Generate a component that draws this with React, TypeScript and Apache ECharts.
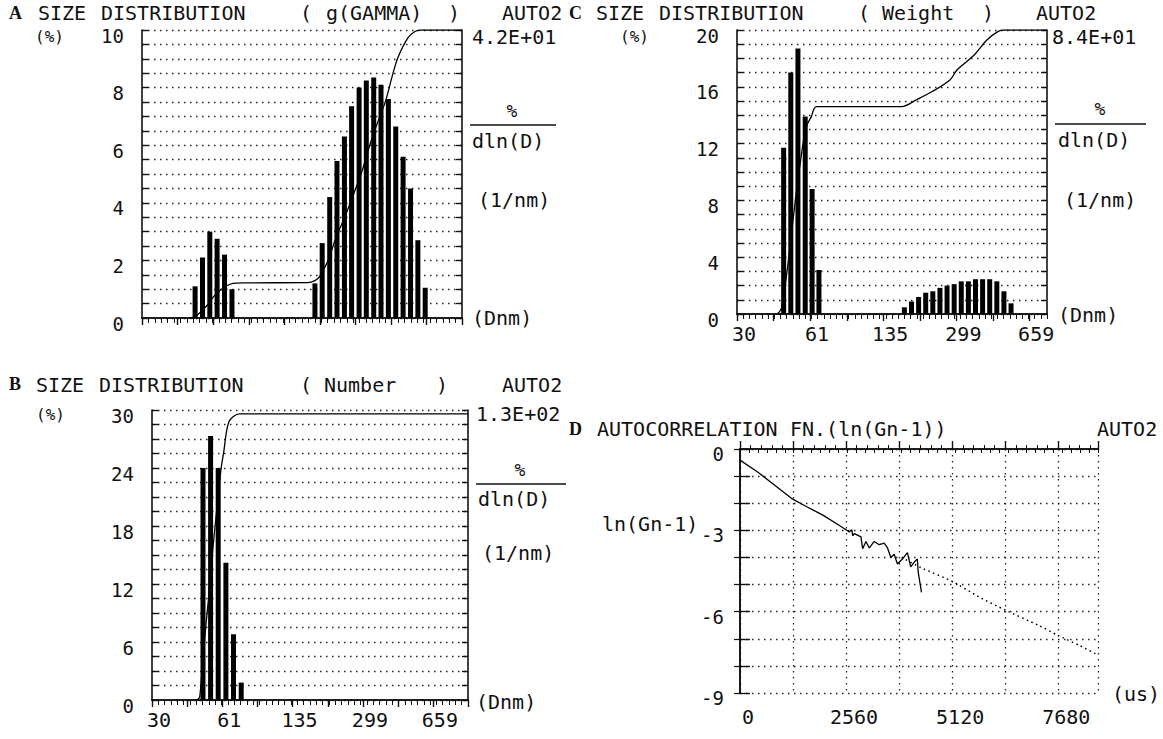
import React, { useEffect, useRef } from "react";
import * as echarts from "echarts";

// ---------- shared x axis (diameter, nm, log) ----------
const xMinDiam = 27.6;
const xMaxDiamAB = 980;
const xMaxDiamC = 800;
const xTickValues = [27.6, 61, 135, 299, 659];
const xTickLabels = ["30", "61", "135", "299", "659"];
const xMajorTicks = [27.6, 41, 61, 91, 135, 201, 299, 444, 659, 980];

// ---------- A : g(GAMMA) ----------
const gammaLeftBins = [49.9, 54.2, 58.8, 63.8, 69.3, 75.3];
const gammaRightBins = [190, 206, 224, 243, 264, 286, 311, 337, 366, 397, 431, 468, 508, 552, 599, 650];
const gammaLeft = [1.1, 2.1, 3.0, 2.75, 2.2, 1.0];
const gammaRight = [1.2, 2.6, 4.2, 5.45, 6.3, 7.35, 8.0, 8.25, 8.35, 8.1, 7.6, 6.65, 5.6, 4.5, 2.7, 1.05];
const gammaCumDiam = [46.6, 49.8, 53, 57.2, 61.5, 65.7, 71, 76.3, 84.8, 175, 190, 200, 220, 241, 265, 291, 322, 352, 380, 418, 450, 479, 536, 580, 622, 980];
const gammaCumValue = [0, 0.05, 0.2, 0.45, 0.75, 0.95, 1.12, 1.2, 1.22, 1.23, 1.3, 1.44, 2.0, 2.82, 3.5, 4.26, 5.12, 6.05, 6.74, 7.54, 8.4, 9.04, 9.73, 9.95, 10, 10];

// ---------- B : Number ----------
const numberBins = [49.1, 53.5, 58.3, 63.6, 69.3, 75.6];
const numberValues = [24.0, 27.3, 24.0, 14.2, 6.8, 1.8];
const numberCumDiam = [45.8, 47.3, 49.1, 52, 55.1, 58.2, 60.3, 62, 65.9, 74.2, 980];
const numberCumValue = [0, 0.3, 4.6, 10, 16, 21, 24, 25.6, 28.8, 29.6, 29.6];

// ---------- C : Weight ----------
const weightLeftBins = [45.8, 49.5, 53.5, 57.9, 62.4, 67.2];
const weightRightBins = [170, 183.6, 198.4, 214.3, 231.5, 250.1, 270.2, 291.9, 315.3, 340.6, 368, 397.5, 429.4, 463.9, 501.1, 541.4];
const weightLeft = [11.7, 17.0, 18.7, 13.9, 8.8, 3.1];
const weightRight = [0.47, 0.88, 1.2, 1.5, 1.6, 1.84, 2.0, 2.1, 2.3, 2.3, 2.45, 2.45, 2.45, 2.3, 1.6, 0.75];
const weightCumDiam = [42.8, 44.7, 46.6, 49.3, 52.0, 54.7, 58.3, 61.9, 65.4, 165, 194.3, 232.4, 279.5, 301.5, 360.7, 416.6, 471, 500.8, 800];
const weightCumValue = [0, 0.4, 2, 5, 8, 10.5, 13.1, 13.9, 14.6, 14.6, 15.1, 15.7, 16.5, 17.2, 18.2, 19.3, 19.9, 20, 20];

// ---------- D : autocorrelation ----------
const acfTime = [0, 400, 800, 1240, 1600, 2000, 2400, 2640, 2700, 2720, 2760, 2920, 2960, 3040, 3120, 3240, 3360, 3480, 3560, 3640, 3720, 3800, 3920, 4040, 4120, 4200, 4280, 4300, 4380];
const acfValue = [-0.41, -0.82, -1.29, -1.82, -2.12, -2.44, -2.82, -3.06, -2.98, -3.2, -3.12, -3.24, -3.68, -3.41, -3.65, -3.41, -3.53, -3.47, -3.65, -4.0, -3.88, -4.24, -4.06, -3.82, -4.35, -4.18, -4.06, -4.53, -5.29];
const fitTime = [3900, 4400, 5120, 5760, 6400, 7200, 7680, 8200, 8640];
const fitValue = [-4.0, -4.4, -4.88, -5.45, -5.94, -6.5, -6.88, -7.25, -7.6];

const MONO = '"DejaVu Sans Mono", "Liberation Mono", monospace';
const SERIF = '"Liberation Serif", "DejaVu Serif", serif';
const INK = "#111";
const dotted = { type: [1.5, 4.5], color: "#222", width: 1.3 };
const axisLineStyle = { color: INK, width: 1.6 };

function pairs(xs: number[], ys: number[]) {
  return xs.map((x, i) => [x, ys[i]]);
}

function xLabelFormatter(v: number) {
  const i = xTickValues.findIndex((t) => Math.abs(t - v) / t < 0.02);
  return i >= 0 ? xTickLabels[i] : "";
}

const grids = [
  { left: 142, top: 30, width: 320, height: 288 },
  { left: 152, top: 410, width: 316, height: 290 },
  { left: 737, top: 30, width: 310, height: 284 },
  { left: 740, top: 449, width: 358, height: 244 },
];

function sizeXAxes(gi: number, showLabels: boolean, max: number) {
  return [
    {
      type: "log",
      gridIndex: gi,
      logBase: 10,
      min: xMinDiam,
      max,
      position: "bottom",
      axisLine: { show: true, lineStyle: axisLineStyle },
      axisTick: { show: true, customValues: xMajorTicks, inside: false, length: 7, lineStyle: { color: INK, width: 1.4 } },
      axisLabel: {
        show: showLabels,
        customValues: xTickValues,
        formatter: xLabelFormatter,
        margin: 10,
        padding: [0, 0, 0, 14],
        fontFamily: MONO,
        fontSize: 20,
        color: INK,
      },
      splitLine: { show: false },
    },
    {
      type: "value",
      gridIndex: gi,
      position: "top",
      min: 0,
      max: 100,
      interval: 2,
      axisLine: { show: true, lineStyle: axisLineStyle },
      axisTick: { show: true, inside: true, length: 5, lineStyle: { color: INK, width: 1 } },
      axisLabel: { show: false },
      splitLine: { show: false },
    },
  ];
}

function sizeYAxes(gi: number, max: number, labelStep: number, minorStep: number) {
  return [
    {
      type: "value",
      gridIndex: gi,
      position: "left",
      min: 0,
      max,
      interval: labelStep,
      axisLine: { show: true, lineStyle: axisLineStyle },
      axisTick: { show: true, inside: true, length: 6, lineStyle: { color: INK, width: 1.4 } },
      minorTick: { show: true, splitNumber: Math.round(labelStep / minorStep), length: 6, lineStyle: { color: INK, width: 1.4 } },
      splitLine: { show: true, lineStyle: dotted },
      minorSplitLine: { show: true, lineStyle: dotted },
      axisLabel: { fontFamily: MONO, fontSize: 19, color: INK, margin: 18, verticalAlign: "top", lineHeight: 11 },
    },
    {
      type: "value",
      gridIndex: gi,
      position: "right",
      min: 0,
      max,
      interval: minorStep,
      axisLine: { show: true, lineStyle: axisLineStyle },
      axisTick: { show: true, inside: true, length: 6, lineStyle: { color: INK, width: 1.4 } },
      axisLabel: { show: false },
      splitLine: { show: false },
    },
  ];
}

function txt(text: string, x: number, y: number, size = 20, align = "left", font = MONO, weight = "normal") {
  return {
    type: "text",
    x,
    y,
    style: {
      text,
      fontFamily: font,
      fontSize: size,
      fontWeight: weight,
      fill: INK,
      textAlign: align,
      textVerticalAlign: "middle",
    },
  };
}
function hline(x1: number, x2: number, y: number) {
  return { type: "line", shape: { x1, y1: y, x2, y2: y }, style: { stroke: INK, lineWidth: 1.5 } };
}

const TY = 13;
const graphics = [
  // A
  txt("A", 9, TY, 18, "left", SERIF, "bold"),
  txt("SIZE", 38, TY),
  txt("DISTRIBUTION", 101, TY),
  txt("(", 300, TY),
  txt("g(GAMMA)", 326, TY),
  txt(")", 448, TY),
  txt("AUTO2", 502, TY),
  txt("(%)", 35, 36, 16),
  txt("4.2E+01", 472, 37),
  txt("%", 512, 110, 18, "center"),
  hline(470, 556, 125),
  txt("dln(D)", 472, 141),
  txt("(1/nm)", 478, 200),
  txt("(Dnm)", 472, 318),
  // B
  txt("B", 9, 384, 18, "left", SERIF, "bold"),
  txt("SIZE", 36, 385),
  txt("DISTRIBUTION", 99, 385),
  txt("(", 300, 385),
  txt("Number", 324, 385),
  txt(")", 436, 385),
  txt("AUTO2", 502, 385),
  txt("(%)", 36, 414, 16),
  txt("1.3E+02", 476, 414),
  txt("%", 520, 469, 18, "center"),
  hline(476, 566, 484),
  txt("dln(D)", 478, 499),
  txt("(1/nm)", 482, 553),
  txt("(Dnm)", 476, 702),
  // C
  txt("C", 569, TY, 18, "left", SERIF, "bold"),
  txt("SIZE", 596, TY),
  txt("DISTRIBUTION", 659, TY),
  txt("(", 858, TY),
  txt("Weight", 882, TY),
  txt(")", 982, TY),
  txt("AUTO2", 1036, TY),
  txt("(%)", 620, 36, 16),
  txt("8.4E+01", 1052, 37),
  txt("%", 1100, 108, 18, "center"),
  hline(1055, 1146, 124),
  txt("dln(D)", 1058, 140),
  txt("(1/nm)", 1064, 200),
  txt("(Dnm)", 1058, 315),
  // D
  txt("D", 569, 429, 18, "left", SERIF, "bold"),
  txt("AUTOCORRELATION", 597, 429),
  txt("FN.(ln(Gn-1))", 790, 429),
  txt("AUTO2", 1097, 429),
  txt("ln(Gn-1)", 602, 524),
  txt("(us)", 1112, 694),
];

export default function App() {
  const ref = useRef<HTMLDivElement>(null);
  useEffect(() => {
    if (!ref.current) return;
    const chart = echarts.init(ref.current, undefined, { renderer: "svg" });
    const barStyle = { color: "#000" };
    const cumLine = { color: "#000", width: 1.3 };
    const option: any = {
      animation: false,
      backgroundColor: "#fff",
      grid: grids,
      xAxis: [
        ...sizeXAxes(0, false, xMaxDiamAB),
        ...sizeXAxes(1, true, xMaxDiamAB),
        ...sizeXAxes(2, true, xMaxDiamC),
        {
          type: "value",
          gridIndex: 3,
          position: "bottom",
          min: 0,
          max: 8640,
          interval: 1280,
          axisLine: { show: true, lineStyle: axisLineStyle },
          axisTick: { show: true, inside: true, length: 8, lineStyle: { color: INK, width: 1.4 } },
          minorTick: { show: true, splitNumber: 5, length: 4, lineStyle: { color: INK, width: 1 } },
          splitLine: { show: true, lineStyle: dotted },
          axisLabel: {
            formatter: (v: number) => (v % 2560 === 0 ? String(v) : ""),
            showMaxLabel: false,
            fontFamily: MONO,
            fontSize: 20,
            color: INK,
            margin: 14,
            padding: [0, 0, 0, 16],
          },
        },
        {
          type: "value",
          gridIndex: 3,
          position: "top",
          min: 0,
          max: 100,
          interval: 2.5,
          axisLine: { show: true, lineStyle: axisLineStyle },
          axisTick: { show: true, inside: true, length: 4, lineStyle: { color: INK, width: 1 } },
          axisLabel: { show: false },
          splitLine: { show: false },
        },
      ],
      yAxis: [
        ...sizeYAxes(0, 10, 2, 0.5),
        ...sizeYAxes(1, 30, 6, 1.5),
        ...sizeYAxes(2, 20, 4, 1),
        {
          type: "value",
          gridIndex: 3,
          position: "left",
          min: -9,
          max: 0,
          interval: 3,
          axisLine: { show: true, lineStyle: axisLineStyle },
          axisTick: { show: true, inside: true, length: 10, lineStyle: { color: INK, width: 1.4 } },
          minorTick: { show: true, splitNumber: 3, length: 10, lineStyle: { color: INK, width: 1.4 } },
          splitLine: { show: true, lineStyle: dotted },
          minorSplitLine: { show: true, lineStyle: dotted },
          axisLabel: { fontFamily: MONO, fontSize: 19, color: INK, margin: 16, verticalAlign: "top", lineHeight: 10 },
        },
        {
          type: "value",
          gridIndex: 3,
          position: "right",
          min: -9,
          max: 0,
          interval: 1,
          axisLine: { show: true, lineStyle: axisLineStyle },
          axisTick: { show: true, inside: true, length: 6, lineStyle: { color: INK, width: 1.2 } },
          axisLabel: { show: false },
          splitLine: { show: false },
        },
      ],
      series: [
        {
          type: "bar",
          xAxisIndex: 0,
          yAxisIndex: 0,
          barWidth: 5,
          itemStyle: barStyle,
          data: [...pairs(gammaLeftBins, gammaLeft), ...pairs(gammaRightBins, gammaRight)],
        },
        {
          type: "line",
          xAxisIndex: 0,
          yAxisIndex: 0,
          smooth: 0.3,
          symbol: "none",
          lineStyle: cumLine,
          data: pairs(gammaCumDiam, gammaCumValue),
        },
        {
          type: "bar",
          xAxisIndex: 2,
          yAxisIndex: 2,
          barWidth: 5,
          itemStyle: barStyle,
          data: pairs(numberBins, numberValues),
        },
        {
          type: "line",
          xAxisIndex: 2,
          yAxisIndex: 2,
          smooth: 0.3,
          symbol: "none",
          lineStyle: cumLine,
          data: pairs(numberCumDiam, numberCumValue),
        },
        {
          type: "bar",
          xAxisIndex: 4,
          yAxisIndex: 4,
          barWidth: 5,
          itemStyle: barStyle,
          data: [...pairs(weightLeftBins, weightLeft), ...pairs(weightRightBins, weightRight)],
        },
        {
          type: "line",
          xAxisIndex: 4,
          yAxisIndex: 4,
          smooth: 0.3,
          symbol: "none",
          lineStyle: cumLine,
          data: pairs(weightCumDiam, weightCumValue),
        },
        {
          type: "line",
          xAxisIndex: 6,
          yAxisIndex: 6,
          symbol: "none",
          lineStyle: cumLine,
          data: pairs(acfTime, acfValue),
        },
        {
          type: "line",
          xAxisIndex: 6,
          yAxisIndex: 6,
          symbol: "none",
          smooth: 0.2,
          lineStyle: { color: "#000", width: 1.5, type: [1.5, 3.5] },
          data: pairs(fitTime, fitValue),
        },
      ],
      graphic: graphics,
    };
    chart.setOption(option);
    return () => chart.dispose();
  }, []);
  return (
    <div
      ref={ref}
      style={{ position: "absolute", left: 0, top: 0, width: 1163, height: 739, background: "#fff" }}
    />
  );
}
